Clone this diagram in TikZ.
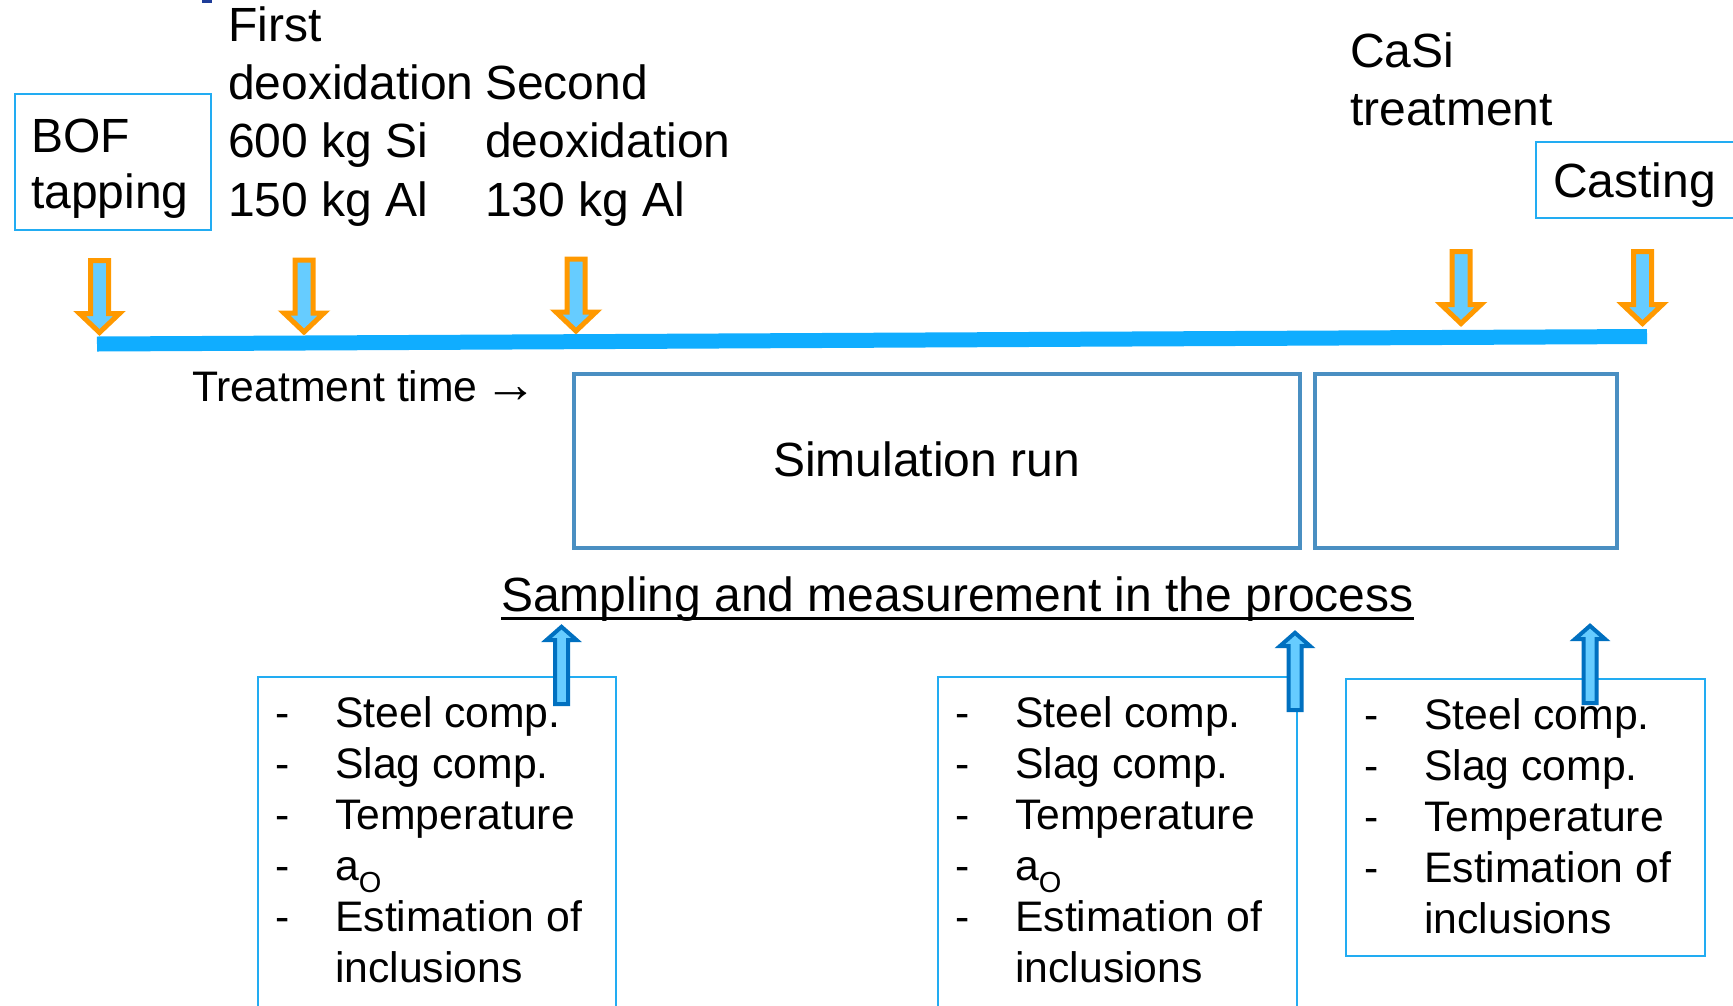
\documentclass[tikz,border=0pt]{standalone}
\usepackage{fontspec}
\setmainfont{Liberation Sans}
\definecolor{boxblue}{HTML}{22ACF2}
\definecolor{lineblue}{HTML}{10ADFF}
\definecolor{simblue}{HTML}{4A8FC2}
\definecolor{markorange}{HTML}{FF9900}
\definecolor{arrowfill}{HTML}{66CCFF}
\definecolor{updark}{HTML}{0070C0}
\definecolor{topmark}{HTML}{1F3D99}
\begin{document}
\begin{tikzpicture}[x=1pt,y=-1pt,
  % multi-line nodes are anchored at the baseline of their last line
  big/.style={font=\fontsize{48}{58.2}\selectfont, inner sep=0, anchor=base west, align=left},
  small/.style={font=\fontsize{42.7}{51}\selectfont, inner sep=0, anchor=base west, align=left},
  framebox/.style={draw=boxblue, line width=2, inner sep=0, anchor=north west},
  simbox/.style={draw=simblue, line width=3.5, inner sep=0, anchor=north west},
  downarrow/.pic={
    \filldraw[draw=markorange, fill=arrowfill, line width=5]
      (-9,-75.5) -- (9,-75.5) -- (9,-22.5) -- (20,-22.5) -- (0,-3.5)
      -- (-20,-22.5) -- (-9,-22.5) -- cycle;
  },
  uparrow/.pic={
    \filldraw[draw=updark, fill=arrowfill, line width=4]
      (-6.5,80) -- (6.5,80) -- (6.5,16) -- (15,16) -- (0,2.8)
      -- (-15,16) -- (-6.5,16) -- cycle;
  },
]
\clip (0,0) rectangle (1733,1005);
\fill[white] (0,0) rectangle (1733,1005);
\fill[topmark] (202,0) rectangle (212,3);

% process steps above the time line
\node[framebox, minimum width=196, minimum height=136] (bofbox) at (14,93) {};
\node[font=\fontsize{48}{56.5}\selectfont, inner sep=0, anchor=base west, align=left] (bof) at (31,208.5) {BOF\\tapping};
\node[big] (first) at (228,216) {First\\deoxidation\\600 kg Si\\150 kg Al};
\node[big] (second) at (485,216) {Second\\deoxidation\\130 kg Al};
\node[font=\fontsize{48}{58}\selectfont, inner sep=0, anchor=base west, align=left] (casi) at (1350,125.5) {CaSi\\treatment};
\node[framebox, minimum width=220, minimum height=76] (castbox) at (1535,141) {};
\node[big] (cast) at (1553,197) {Casting};

% time line
\coordinate (tlstart) at (97,344);
\coordinate (tlend) at (1647,336.5);
\draw[lineblue, line width=15] (tlstart) -- (tlend);
\pic (d1) at (99.5,336) {downarrow};
\pic (d2) at (304,335.5) {downarrow};
\pic (d3) at (576,334.5) {downarrow};
\pic (d4) at (1461,327) {downarrow};
\pic (d5) at (1642.5,327) {downarrow};

\node[small] (ttime) at (192,401.5) {Treatment time\hspace{7pt}\raisebox{-1pt}{\fontsize{53}{53}\selectfont →}};

% simulation
\node[simbox, minimum width=726, minimum height=174] (sim) at (572,372) {};
\node[font=\fontsize{48}{58}\selectfont, inner sep=0, anchor=base west] (simtext) at (773,476) {Simulation run};
\node[simbox, minimum width=302, minimum height=174] (simb) at (1313,372) {};

% sampling
\node[font=\fontsize{48}{58}\selectfont, inner sep=0, anchor=base west] (samp) at (501,611) {Sampling and measurement in the process};
\draw[line width=3] ([yshift=-7pt]samp.base west) -- ([yshift=-7pt]samp.base east);

% measurement lists
\node[framebox, minimum width=358, minimum height=342] (lista) at (257,676) {};
\node[framebox, minimum width=359, minimum height=342] (listb) at (937,676) {};
\node[framebox, minimum width=359, minimum height=277] (listc) at (1345,678) {};

\node[small] (ta) at (275,982) {\makebox[60pt][l]{-}Steel comp.\\
  \makebox[60pt][l]{-}Slag comp.\\
  \makebox[60pt][l]{-}Temperature\\
  \makebox[60pt][l]{-}a\raisebox{-12pt}{\fontsize{29}{29}\selectfont O}\\
  \makebox[60pt][l]{-}Estimation of\\
  \hspace*{60pt}inclusions};
\node[small] (tb) at (955,982) {\makebox[60pt][l]{-}Steel comp.\\
  \makebox[60pt][l]{-}Slag comp.\\
  \makebox[60pt][l]{-}Temperature\\
  \makebox[60pt][l]{-}a\raisebox{-12pt}{\fontsize{29}{29}\selectfont O}\\
  \makebox[60pt][l]{-}Estimation of\\
  \hspace*{60pt}inclusions};
\node[small] (tc) at (1364,933) {\makebox[60pt][l]{-}Steel comp.\\
  \makebox[60pt][l]{-}Slag comp.\\
  \makebox[60pt][l]{-}Temperature\\
  \makebox[60pt][l]{-}Estimation of\\
  \hspace*{60pt}inclusions};

\pic (u1) at (561.5,624) {uparrow};
\pic (u2) at (1295,630) {uparrow};
\pic (u3) at (1590,623) {uparrow};
\end{tikzpicture}
\end{document}
